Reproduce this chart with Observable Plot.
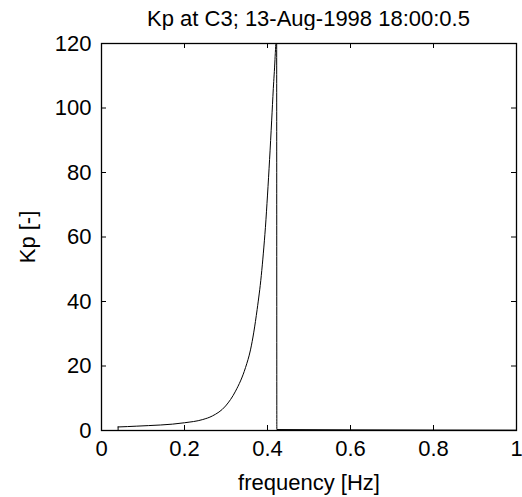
<!DOCTYPE html>
<html>
<head>
<meta charset="utf-8">
<script src="https://cdn.jsdelivr.net/npm/d3@7"></script>
<script src="https://cdn.jsdelivr.net/npm/@observablehq/plot@0.6"></script>
<style>
  html, body { margin: 0; padding: 0; background: #fff; }
  #chart { position: relative; width: 522px; height: 497px; font-family: "Liberation Sans", Arial, sans-serif; }
  #title { position: absolute; left: 101px; width: 415px; top: 6px; text-align: center; font-size: 22px; line-height: 25px; color: #000; white-space: nowrap; }
  #plot { position: absolute; left: 0; top: 30px; }
</style>
</head>
<body>
<div id="chart">
  <div id="title">Kp at C3; 13-Aug-1998 18:00:0.5</div>
  <div id="plot"></div>
</div>
<script>
// Transfer coefficient Kp versus frequency, with the resonance near 0.422 Hz
const freq = [0.04, 0.085, 0.2, 0.244, 0.267, 0.299, 0.323, 0.347, 0.359, 0.367, 0.375, 0.385, 0.39, 0.395, 0.40, 0.405, 0.41, 0.414, 0.418, 0.421, 0.422, 0.4225, 0.6, 1.0];
const kp   = [1.1,  1.35,  2.4, 3.4,   4.5,   7.6,   12.2,  19.5,  25,    30.5,  37.5,  48,    55,   63,    73,   84,    96,   106,   115,   125,   140,   0.3,    0.2, 0.1];

const xTicks = [0, 0.2, 0.4, 0.6, 0.8, 1];
const yTicks = [0, 20, 40, 60, 80, 100, 120];

const series = freq.map((f, i) => ({f, k: kp[i]}));

const width = 522, height = 467;
const margin = {top: 13, right: 6, bottom: 67, left: 101};
const innerW = width - margin.left - margin.right;
const innerH = height - margin.top - margin.bottom;
const tick = 5;

const chart = Plot.plot({
  width, height,
  marginTop: margin.top, marginRight: margin.right,
  marginBottom: margin.bottom, marginLeft: margin.left,
  style: {fontFamily: "'Liberation Sans', Arial, sans-serif", fontSize: "22px", color: "#000", background: "#fff"},
  x: {domain: [0, 1]},
  y: {domain: [0, 120]},
  marks: [
    // labels only; the tick marks are drawn inward below
    Plot.axisX(xTicks, {anchor: "bottom", tickSize: 0, tickPadding: 10, fontSize: 22,
      tickFormat: d => String(d), label: "frequency [Hz]", labelAnchor: "center", labelArrow: "none", labelOffset: 59}),
    Plot.axisY(yTicks, {anchor: "left", tickSize: 0, tickPadding: 10, fontSize: 22,
      tickFormat: d => String(d), label: "Kp [-]", labelAnchor: "center", labelArrow: "none", labelOffset: 82}),
    // inward ticks on all four sides
    Plot.ruleX(xTicks, {x: d => d, insetTop: innerH - tick, stroke: "#000"}),
    Plot.ruleX(xTicks, {x: d => d, insetBottom: innerH - tick, stroke: "#000"}),
    Plot.ruleY(yTicks, {y: d => d, insetRight: innerW - tick, stroke: "#000"}),
    Plot.ruleY(yTicks, {y: d => d, insetLeft: innerW - tick, stroke: "#000"}),
    // the short rise at the first frequency sample
    Plot.ruleX(series.slice(0, 1), {x: "f", y1: 0, y2: "k", stroke: "#000", strokeWidth: 1}),
    Plot.line(series, {x: "f", y: "k", stroke: "#000", strokeWidth: 1, curve: "monotone-x", clip: true}),
    Plot.frame({stroke: "#000", strokeWidth: 1.3})
  ]
});
document.getElementById("plot").appendChild(chart);
</script>
</body>
</html>
